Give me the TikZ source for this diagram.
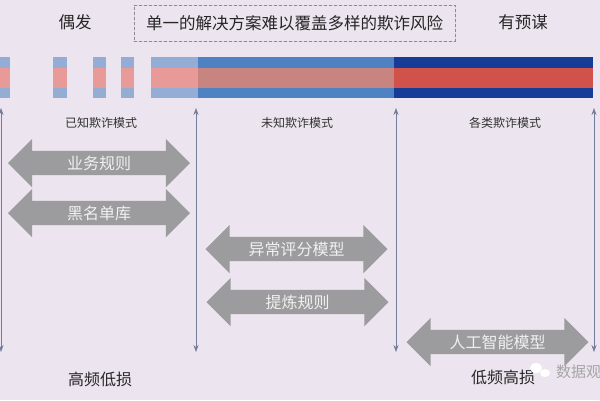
\documentclass[tikz,border=0pt]{standalone}
\usepackage{fontspec}
\setmainfont{Noto Sans CJK SC}
\usetikzlibrary{arrows.meta, shapes.arrows, positioning}
\tikzset{x=1pt,y=-1pt, >={Stealth[length=7pt,width=5pt]}}

\begin{document}
\begin{tikzpicture}
% Style
[
    line cap=round,
    big text/.style={font=\fontsize{16.5}{16.5}\selectfont, text=black!85, inner sep=0pt},
    mode text/.style={font=\fontsize{12}{12}\selectfont, text=black!80, inner sep=0pt},
    range line/.style={semithick, range_color, <->},
    tool arrow/.style={
        double arrow, fill=tool_color, draw=none, text=tool_text,
        font=\fontsize{16}{16}\selectfont, inner xsep=0pt, inner ysep=4pt,
        double arrow head extend=12pt, double arrow tip angle=90,
        minimum height=182pt, text depth=2pt, text height=14pt
    }
]

% Define: Colors
\definecolor{paper}{HTML}{ECE4EE}
\definecolor{light_blue}{HTML}{93ADD4}
\definecolor{light_red}{HTML}{E89A98}
\definecolor{mid_blue}{HTML}{4F82C2}
\definecolor{mid_red}{HTML}{C8847F}
\definecolor{dark_blue}{HTML}{163C98}
\definecolor{dark_red}{HTML}{D0524A}
\definecolor{range_color}{HTML}{737D99}
\definecolor{tool_color}{HTML}{9C9B9E}
\colorlet{tool_text}{white!94!black}

%================================== Prepare ==================================
\fill [paper] (0,0) rectangle (600,400);
\useasboundingbox (0,0) rectangle (600,400);

%=================================== Start ===================================
{
    % Draw: Titles
    \node [big text] (rare) at (75,22) {偶发};
    \node [big text, draw=black!45, densely dashed, inner xsep=12pt,
           minimum width=321pt, minimum height=36pt] (claim) at (294.5,23)
        {单一的解决方案难以覆盖多样的欺诈风险};
    \node [big text] (planned) at (523,22) {有预谋};

    % Draw: Band
    \foreach \xa/\xb/\blue/\red in {
        0/10/light_blue/light_red, 53/67/light_blue/light_red,
        93/106/light_blue/light_red, 121/134/light_blue/light_red,
        151/198/light_blue/light_red, 198/394/mid_blue/mid_red,
        394/593/dark_blue/dark_red} {
        \fill [\blue] (\xa,57) rectangle (\xb,98);
        \fill [\red]  (\xa,68) rectangle (\xb,88);
    }

    % Draw: Ranges
    \foreach \i/\x in {0/1, 1/196, 2/396, 3/594} {
        \coordinate (top\i) at (\x,108);
        \coordinate (bot\i) at (\x,352);
        \draw [range line] (top\i) -- (bot\i);
    }
    \node [mode text] (known)   at (101,123) {已知欺诈模式};
    \node [mode text] (unknown) at (297,123) {未知欺诈模式};
    \node [mode text] (all)     at (505,123) {各类欺诈模式};

    % Draw: Tools
    \node [tool arrow] (rules)   at (99,163)    {业务规则};
    \node [tool arrow] (black)   at (99,213)    {黑名单库};
    \node [tool arrow] (score)   at (296.5,249) {异常评分模型};
    \node [tool arrow] (extract) at (297.5,302) {提炼规则};
    \node [tool arrow] (ai)      at (497.5,342) {人工智能模型};

    % Draw: Losses
    \node [big text, font=\fontsize{16}{16}\selectfont] (high) at (100,379) {高频低损};
    \node [big text, font=\fontsize{16}{16}\selectfont] (low)  at (503,377) {低频高损};

    % Draw: Watermark
    \fill [white] (536,368) ellipse [x radius=6, y radius=5];
    \fill [white] (545,373) ellipse [x radius=5, y radius=4];
    \node [big text, anchor=west, text=black!35, font=\fontsize{15}{15}\selectfont]
        (mark) at (556,372) {数据观};
}
%==================================== END ====================================
\end{tikzpicture}
\end{document}
